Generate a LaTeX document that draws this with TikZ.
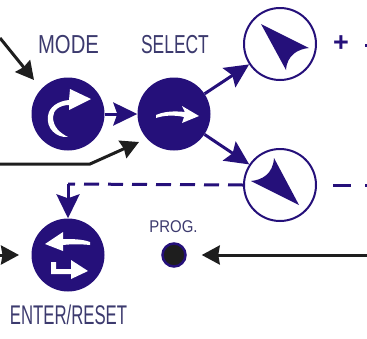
\documentclass[tikz,border=0pt]{standalone}
\usepackage{fontspec}
\setmainfont{Liberation Sans}
\usetikzlibrary{arrows.meta}
\definecolor{navy}{HTML}{25107A}
\definecolor{ink}{HTML}{1E1E1E}
\definecolor{lab}{HTML}{3C3A6E}
\tikzset{
 btn/.style={circle,fill=navy,draw=none,minimum size=73pt,inner sep=0pt},
 ring/.style={circle,draw=navy,line width=2pt,fill=white,minimum size=72pt,inner sep=0pt},
 lab/.style={text=lab,inner sep=0pt,font=\fontsize{26}{26}\selectfont},
 navyline/.style={draw=navy,line width=3pt,-{Stealth[length=24pt,width=23pt,inset=4pt]}},
 inkline/.style={draw=ink,line width=3pt,-{Stealth[length=18pt,width=19pt,inset=1.5pt]}},
 glyph/.style={fill=white,draw=none},
 needle/.style={fill=navy,draw=none}
}
\begin{document}
\begin{tikzpicture}[x=1pt,y=-1pt]
\useasboundingbox (0,0) rectangle (367,338);
\node[btn] (mode) at (68,114) {};
\node[btn] (select) at (174,114) {};
\node[btn] (enter) at (68,255) {};
\node[ring] (up) at (280,44) {};
\node[ring] (down) at (280,185) {};
\node[circle,fill=ink,draw=navy,line width=2.5pt,minimum size=23pt,inner sep=0pt] (prog) at (174,255) {};
\node[lab,xscale=.78] (tmode) at (68.5,45) {MODE};
\node[lab,xscale=.67] (tselect) at (175,45) {SELECT};
\node[lab,font=\fontsize{27}{27}\selectfont,xscale=.62] (tenter) at (68.5,315) {ENTER/RESET};
\node[lab,font=\fontsize{17}{17}\selectfont,xscale=.88] (tprog) at (173.5,227) {PROG.};
\node[text=navy,inner sep=0pt,font=\bfseries\fontsize{27}{27}\selectfont] (plus) at (341,44) {+};
% glyphs
\fill[glyph] (68,137) .. controls (56,138) and (46,128) .. (48,116) .. controls (49,107) and (58,101) .. (69,100) -- (70,89) -- (91,99) -- (69,110) -- (69,105) .. controls (60,105) and (53,110) .. (53,117) .. controls (53,127) and (60,133) .. (68,137) -- cycle;
\fill[glyph] (156,115) .. controls (165,111) and (175,111) .. (185,112) -- (182,106) -- (199,116) -- (182,123) -- (184,117) .. controls (175,115) and (165,115) .. (156,118) -- cycle;
\fill[glyph] (45,244) -- (63,232) -- (63,239) .. controls (72,239) and (82,239) .. (90,242) -- (90,245) .. controls (80,244) and (72,244) .. (63,245) -- (63,251) -- cycle;
\fill[glyph] (51,262) -- (56,262) -- (56,269) -- (71,269) -- (71,260) -- (88,271) -- (71,279) -- (71,274) -- (51,274) -- cycle;
\fill[needle] (261,24) -- (309,48) .. controls (298,49) and (287,55) .. (286,70) -- cycle;
\fill[needle] (299,205) -- (251,181) .. controls (262,180) and (273,174) .. (274,158) -- cycle;
% connectors
\coordinate (a1) at (0,38);
\coordinate (a2) at (34,80);
\draw[inkline] (a1) -- (a2);
\draw[navyline] (mode) -- (select);
\draw[navyline] (select) -- (up);
\draw[navyline] (select) -- (down);
\coordinate (b1) at (0,164);
\coordinate (b2) at (90,164);
\coordinate (b3) at (139,142);
\draw[inkline] (b1) -- (b2) -- (b3);
\coordinate (c1) at (367,255);
\draw[inkline,shorten >=15pt] (c1) -- (prog);
\coordinate (d1) at (0,255);
\coordinate (d2) at (19,255);
\draw[inkline] (d1) -- (d2);
\coordinate (e0) at (68,184);
\draw[navy,line width=3pt,dash pattern=on 15pt off 9pt] (down.west) -- (e0);
\draw[navyline] (e0) -- (enter);
\coordinate (f1) at (333,185);
\coordinate (f2) at (351,185);
\draw[navy,line width=3pt] (f1) -- (f2);
\coordinate (g1) at (365,185);
\coordinate (g2) at (367,185);
\draw[navy,line width=3pt] (g1) -- (g2);
\coordinate (h1) at (365,45);
\coordinate (h2) at (367,45);
\draw[navy,line width=3pt] (h1) -- (h2);
\end{tikzpicture}
\end{document}
